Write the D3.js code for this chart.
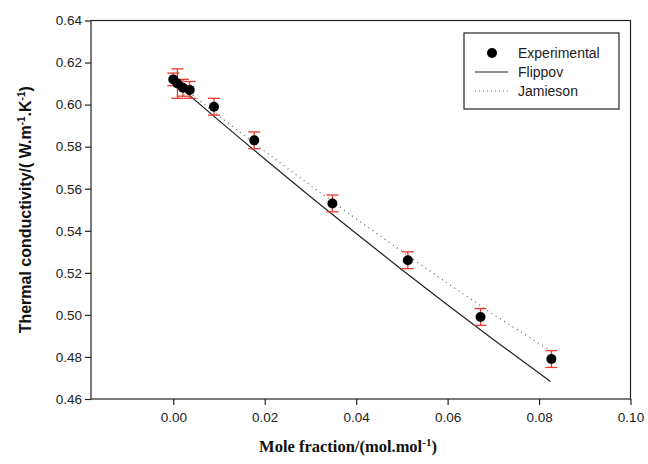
<!DOCTYPE html>
<html>
<head>
<meta charset="utf-8">
<script src="https://cdn.jsdelivr.net/npm/d3@7"></script>
<style>
  body { margin: 0; background: #fff; }
  svg { display: block; }
</style>
</head>
<body>
<svg id="chart" width="648" height="464"></svg>
<script>
// experimental data: mole fraction, conductivity, error
var expX   = [0.0000, 0.0009, 0.0021, 0.0036, 0.0089, 0.0177, 0.0348, 0.0513, 0.0672, 0.0827];
var expY   = [0.612, 0.610, 0.608, 0.607, 0.599, 0.583, 0.553, 0.526, 0.499, 0.479];
var expErr = [0.003, 0.007, 0.004, 0.004, 0.004, 0.004, 0.004, 0.004, 0.004, 0.004];

// model curves
var modelX   = [0, 0.01, 0.02, 0.03, 0.04, 0.05, 0.06, 0.07, 0.0825];
var flippovY = [0.611, 0.5924, 0.5741, 0.5562, 0.5387, 0.5215, 0.5047, 0.4883, 0.4683];
var jamiesY  = [0.612, 0.5945, 0.5778, 0.5615, 0.5457, 0.5302, 0.5150, 0.5002, 0.4830];

var xTicks = [0, 0.02, 0.04, 0.06, 0.08, 0.10];
var yTicks = [0.46, 0.48, 0.50, 0.52, 0.54, 0.56, 0.58, 0.60, 0.62, 0.64];

(function() {
  var svg = d3.select("#chart");
  var pLeft = 91, pRight = 630.5, pTop = 20.5, pBottom = 399;

  var x = d3.scaleLinear().domain([-0.018, 0.10]).range([pLeft, pRight]);
  var y = d3.scaleLinear().domain([0.46, 0.64]).range([pBottom, pTop]);

  var font = "'Liberation Sans', Arial, sans-serif";

  // frame
  svg.append("rect")
      .attr("x", pLeft).attr("y", pTop)
      .attr("width", pRight - pLeft).attr("height", pBottom - pTop)
      .attr("fill", "none").attr("stroke", "#222").attr("stroke-width", 1.2);

  // axes
  var xAxis = svg.append("g")
      .attr("transform", "translate(0," + pBottom + ")")
      .call(d3.axisBottom(x).tickValues(xTicks).tickSize(6).tickPadding(7)
        .tickFormat(d3.format(".2f")));
  var yAxis = svg.append("g")
      .attr("transform", "translate(" + pLeft + ",0)")
      .call(d3.axisLeft(y).tickValues(yTicks).tickSize(6).tickPadding(3)
        .tickFormat(d3.format(".2f")));
  [xAxis, yAxis].forEach(function(a) {
    a.select(".domain").remove();
    a.selectAll("line").attr("stroke", "#222").attr("stroke-width", 1.2);
    a.selectAll("text").attr("font-family", font).attr("font-size", 13.5).attr("fill", "#222");
  });

  // model lines
  var line = d3.line()
      .x(function(d) { return x(d[0]); })
      .y(function(d) { return y(d[1]); });

  svg.append("path")
      .datum(modelX.map(function(v, i) { return [v, flippovY[i]]; }))
      .attr("d", line)
      .attr("fill", "none").attr("stroke", "#222").attr("stroke-width", 1.2);

  svg.append("path")
      .datum(modelX.map(function(v, i) { return [v, jamiesY[i]]; }))
      .attr("d", line)
      .attr("fill", "none").attr("stroke", "#666").attr("stroke-width", 1.3)
      .attr("stroke-dasharray", "1,4");

  // error bars
  var pts = expX.map(function(v, i) { return {x: v, y: expY[i], e: expErr[i]}; });
  var red = "#e8382d", capW = 6;
  var eb = svg.append("g").selectAll("g").data(pts).enter().append("g")
      .attr("stroke", red).attr("stroke-width", 1.3);
  eb.append("line")
      .attr("x1", function(d) { return x(d.x); }).attr("x2", function(d) { return x(d.x); })
      .attr("y1", function(d) { return y(d.y + d.e); }).attr("y2", function(d) { return y(d.y - d.e); });
  eb.append("line")
      .attr("x1", function(d) { return x(d.x) - capW; }).attr("x2", function(d) { return x(d.x) + capW; })
      .attr("y1", function(d) { return y(d.y + d.e); }).attr("y2", function(d) { return y(d.y + d.e); });
  eb.append("line")
      .attr("x1", function(d) { return x(d.x) - capW; }).attr("x2", function(d) { return x(d.x) + capW; })
      .attr("y1", function(d) { return y(d.y - d.e); }).attr("y2", function(d) { return y(d.y - d.e); });

  // points
  svg.append("g").selectAll("circle").data(pts).enter().append("circle")
      .attr("cx", function(d) { return x(d.x); })
      .attr("cy", function(d) { return y(d.y); })
      .attr("r", 5).attr("fill", "#000");

  // legend
  var lg = svg.append("g");
  lg.append("rect").attr("x", 464).attr("y", 33).attr("width", 155).attr("height", 76)
      .attr("fill", "#fff").attr("stroke", "#222").attr("stroke-width", 1.2);
  lg.append("circle").attr("cx", 492).attr("cy", 53).attr("r", 5).attr("fill", "#000");
  lg.append("line").attr("x1", 475).attr("x2", 508).attr("y1", 72).attr("y2", 72)
      .attr("stroke", "#222").attr("stroke-width", 1.2);
  lg.append("line").attr("x1", 475).attr("x2", 508).attr("y1", 91).attr("y2", 91)
      .attr("stroke", "#777").attr("stroke-width", 1.2).attr("stroke-dasharray", "1,3");
  ["Experimental", "Flippov", "Jamieson"].forEach(function(t, i) {
    lg.append("text").attr("x", 518).attr("y", 53 + i * 19).attr("dy", "0.35em")
      .attr("font-family", font).attr("font-size", 14).attr("fill", "#222").text(t);
  });

  // axis titles
  var yt = svg.append("text")
      .attr("transform", "translate(31," + ((pTop + pBottom) / 2) + ") rotate(-90)")
      .attr("text-anchor", "middle")
      .attr("font-family", font).attr("font-size", 16).attr("font-weight", "bold").attr("fill", "#111");
  yt.append("tspan").text("Thermal conductivity/( W.m");
  yt.append("tspan").attr("dy", -6).attr("font-size", 10).text("-1");
  yt.append("tspan").attr("dy", 6).text(".K");
  yt.append("tspan").attr("dy", -6).attr("font-size", 10).text("-1");
  yt.append("tspan").attr("dy", 6).text(")");

  var xt = svg.append("text")
      .attr("x", 348).attr("y", 452)
      .attr("text-anchor", "middle")
      .attr("font-family", "'Liberation Serif', 'Times New Roman', serif")
      .attr("font-size", 16.5).attr("font-weight", "bold").attr("fill", "#111");
  xt.append("tspan").text("Mole fraction/(mol.mol");
  xt.append("tspan").attr("dy", -6).attr("font-size", 11).text("-1");
  xt.append("tspan").attr("dy", 6).text(")");
})();
</script>
</body>
</html>
